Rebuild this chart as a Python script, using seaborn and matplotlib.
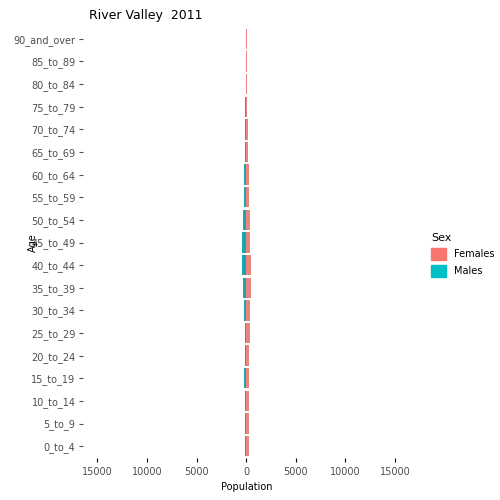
import pandas as pd
import seaborn as sns
import matplotlib.pyplot as plt
from matplotlib.patches import Patch

ages = ['0_to_4', '5_to_9', '10_to_14', '15_to_19', '20_to_24', '25_to_29', '30_to_34',
        '35_to_39', '40_to_44', '45_to_49', '50_to_54', '55_to_59', '60_to_64', '65_to_69',
        '70_to_74', '75_to_79', '80_to_84', '85_to_89', '90_and_over']
females = [290, 290, 290, 290, 290, 390, 390, 490, 490, 390, 390, 290, 290, 160, 160, 30, 30, 30, 30]
males = [130, 130, 130, 200, 130, 130, 200, 290, 390, 390, 290, 200, 200, 130, 130, 130, 10, 0, 0]

order = ages[::-1]
df = pd.DataFrame({
    'Age': ages * 2,
    'Population': females + [-m for m in males],
    'Sex': ['Females'] * len(ages) + ['Males'] * len(ages),
})

colors = {'Females': '#F8766D', 'Males': '#00BFC4'}
fig = plt.figure(figsize=(5, 5), dpi=100)
ax = fig.add_axes([0.165, 0.085, 0.655, 0.86])
sns.barplot(data=df, y='Age', x='Population', hue='Sex', order=order, palette=colors,
            dodge=False, orient='h', width=0.9, ax=ax, legend=False, linewidth=0)
ax.set_xlim(-16500, 16500)
ticks = [-15000, -10000, -5000, 0, 5000, 10000, 15000]
ax.set_xticks(ticks)
ax.set_xticklabels([str(abs(t)) for t in ticks], fontsize=7, color='#4d4d4d')
ax.tick_params(axis='y', labelsize=7, colors='#4d4d4d', length=3, pad=2)
ax.tick_params(axis='x', length=3)
for s in ax.spines.values():
    s.set_visible(False)
ax.set_xlabel('Population', fontsize=7)
ax.set_ylabel('Age', fontsize=7)
ax.yaxis.set_label_coords(-0.135, 0.5)
ax.set_title('River Valley  2011', loc='left', fontsize=9, x=0.02)
handles = [Patch(color=colors[k], label=k) for k in ['Females', 'Males']]
fig.legend(handles=handles, title='Sex', loc='center left', bbox_to_anchor=(0.845, 0.49),
           frameon=False, fontsize=7, title_fontsize=8, alignment='left',
           handlelength=1.5, handleheight=1.5)
fig.savefig('out.png', dpi=100)
